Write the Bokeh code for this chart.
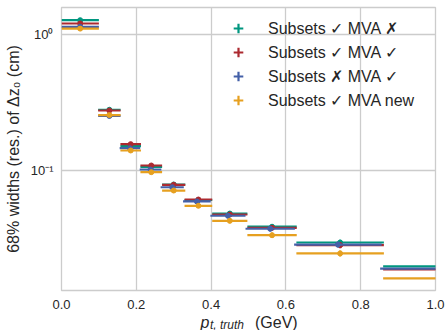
import math
from bokeh.plotting import figure
from bokeh.models import FixedTicker, PrintfTickFormatter, Legend, LegendItem, ColumnDataSource
from bokeh.core.properties import value
from bokeh.embed import file_html
from bokeh.resources import INLINE

# ---- data ----
bin_center = [0.05, 0.128, 0.185, 0.240, 0.300, 0.366, 0.450, 0.563, 0.745, 1.05]
bin_halfwidth = [0.05, 0.030, 0.0275, 0.029, 0.031, 0.037, 0.047, 0.066, 0.117, 0.19]
blue_shift = [0.0, 0.0, -0.002, -0.002, -0.004, -0.004, -0.005, -0.005, -0.006, -0.008]
rel_err = [0.03, 0.03, 0.03, 0.03, 0.035, 0.035, 0.04, 0.045, 0.05, 0.05]

width_sub_nomva = [1.28, 0.281, 0.152, 0.107, 0.0793, 0.0610, 0.0485, 0.0388, 0.0297, 0.0198]
width_sub_mva = [1.21, 0.2775, 0.157, 0.1094, 0.0789, 0.0615, 0.0477, 0.0381, 0.0284, 0.0188]
width_nosub_mva = [1.145, 0.253, 0.1466, 0.1022, 0.0757, 0.0595, 0.0467, 0.0375, 0.0287, 0.0191]
width_sub_mvanew = [1.11, 0.257, 0.141, 0.0977, 0.0716, 0.0553, 0.0429, 0.0336, 0.0247, 0.0162]

series_names = ["Subsets \u2713 MVA \u2717", "Subsets \u2713 MVA \u2713",
                "Subsets \u2717 MVA \u2713", "Subsets \u2713 MVA new"]
series_colors = ["#00967f", "#ac2a30", "#4460a8", "#e6a020"]

x_ticks = [0.0, 0.2, 0.4, 0.6, 0.8, 1.0]
y_ticks = [0.01, 0.1, 1.0]
y_tick_labels = {0.01: "10\u207b\u00b2", 0.1: "10\u207b\u00b9", 1.0: "10\u2070"}

x_lo, x_hi = 0.0, 1.0
y_lo, y_hi = 0.01318, 1.587

FONT = "Liberation Sans"
TXT = "#262626"

FL, FR, FT, FB = 61, 435, 7, 290  # frame edges in pixels

p = figure(width=446, height=330, x_range=(x_lo, x_hi), y_range=(y_lo, y_hi),
           y_axis_type="log", output_backend="svg", toolbar_location=None,
           min_border_left=FL, min_border_right=446 - FR, min_border_top=FT,
           min_border_bottom=330 - FB)
p.background_fill_color = "white"
p.border_fill_color = "white"
p.outline_line_color = "#cccccc"
p.outline_line_width = 1.3

for g in (p.xgrid[0], p.ygrid[0]):
    g.grid_line_color = "#cccccc"
    g.grid_line_width = 1.3

for ax in (p.xaxis[0], p.yaxis[0]):
    ax.axis_line_color = None
    ax.major_tick_line_color = None
    ax.minor_tick_line_color = None
    ax.major_tick_out = 0
    ax.major_tick_in = 0
    ax.minor_tick_out = 0
    ax.minor_tick_in = 0
    ax.major_label_text_font = FONT
    ax.major_label_text_font_size = "13px"
    ax.major_label_text_color = TXT

p.xaxis.ticker = FixedTicker(ticks=x_ticks)
p.xaxis.formatter = PrintfTickFormatter(format="%.1f")
p.xaxis.major_label_standoff = 9

p.yaxis.ticker = FixedTicker(ticks=y_ticks)
p.yaxis.major_label_overrides = y_tick_labels
p.yaxis.major_label_standoff = 8
p.yaxis.axis_label = "68% widths (res.) of \u0394z\u2080 (cm)"
p.yaxis.axis_label_text_font = FONT
p.yaxis.axis_label_text_font_size = "16px"
p.yaxis.axis_label_text_font_style = "normal"
p.yaxis.axis_label_text_color = TXT
p.yaxis.axis_label_standoff = 6

series_values = [width_sub_nomva, width_sub_mva, width_nosub_mva, width_sub_mvanew]
items = []
for k, (vals, col, name) in enumerate(zip(series_values, series_colors, series_names)):
    if k == 2:
        xc = [c + s for c, s in zip(bin_center, blue_shift)]
    else:
        xc = list(bin_center)
    src = ColumnDataSource(dict(
        x=xc,
        x0=[c - h for c, h in zip(xc, bin_halfwidth)],
        x1=[c + h for c, h in zip(xc, bin_halfwidth)],
        y=vals,
        ylo=[v * (1 - r) for v, r in zip(vals, rel_err)],
        yhi=[v * (1 + r) for v, r in zip(vals, rel_err)],
    ))
    p.segment(x0="x0", x1="x1", y0="y", y1="y", source=src, line_color=col, line_width=2.2)
    p.segment(x0="x", x1="x", y0="ylo", y1="yhi", source=src, line_color=col, line_width=2.2)
    p.scatter(x="x", y="y", source=src, marker="circle", size=5, fill_color=col, line_color=col)
    # legend handle: "+" marker drawn only in the legend (size 0 in the plot)
    leg_r = p.scatter(x="x", y="y", source=src, marker="cross", size=0,
                      line_color=col, line_width=2.2)
    items.append(LegendItem(label=name, renderers=[leg_r]))

legend = Legend(items=items, location=(165, 178), orientation="vertical",
                glyph_width=24, glyph_height=24, spacing=0, padding=0, margin=0,
                label_standoff=18, border_line_alpha=0, background_fill_alpha=0,
                label_text_font=FONT, label_text_font_size="16px", label_text_color=TXT)
p.add_layout(legend)


def px_x(px):
    return x_lo + (px - FL) / (FR - FL) * (x_hi - x_lo)


def px_y(py):
    a, b = math.log10(y_lo), math.log10(y_hi)
    return 10 ** (a + (FB - py) / (FB - FT) * (b - a))


# x axis label: p_{t, truth} (GeV), drawn as text on the overlay level (outside the frame)
xlab_common = dict(text_font=value(FONT), text_color=TXT, text_align="left",
                   text_baseline="alphabetic", level="overlay")
p.text(x=[px_x(200)], y=[px_y(321.5)], text=["p"], text_font_style="italic",
       text_font_size="16px", **xlab_common)
p.text(x=[px_x(209.5)], y=[px_y(324)], text=["t, truth"], text_font_style="italic",
       text_font_size="12px", **xlab_common)
p.text(x=[px_x(254.5)], y=[px_y(321.5)], text=["(GeV)"], text_font_style="normal",
       text_font_size="16px", **xlab_common)

open("out.html", "w").write(file_html(p, INLINE))
